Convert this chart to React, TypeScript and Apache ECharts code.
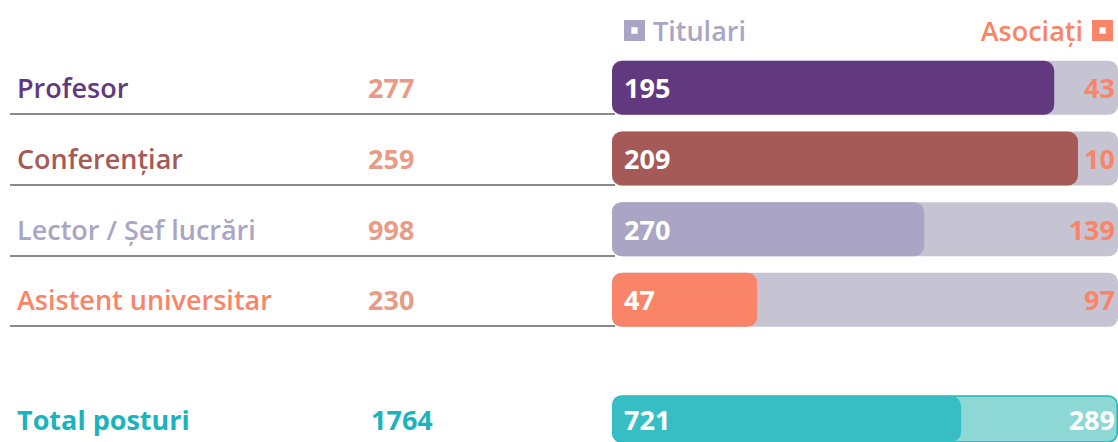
import React, { useEffect, useRef } from "react";
import * as echarts from "echarts";

const categories = ["Profesor", "Conferențiar", "Lector / Șef lucrări", "Asistent universitar"];
const posturi = [277, 259, 998, 230];
const titulari = [195, 209, 270, 47];
const asociati = [43, 10, 139, 97];
// share of the bar track filled by the titular bar (%)
const titulariShare = [87.4, 92.1, 61.7, 28.7];
const trackFull = [100, 100, 100, 100];

const totalLabel = "Total posturi";
const totalPosturi = 1764;
const totalTitulari = 721;
const totalAsociati = 289;
const totalShare = 69;

const rowColors = ["#62397e", "#a55a58", "#aaa5c5", "#fa8468"];
const rowWeights = [600, 600, 600, 600];

const FONT = "Open Sans";
const FS = 27;
const holeIcon = "path://M0,0L20,0L20,20L0,20Z M7,7L7,13L13,13L13,7Z";

export default function App() {
  const ref = useRef<HTMLDivElement>(null);
  useEffect(() => {
    if (!ref.current) return;
    const chart = echarts.init(ref.current, undefined, { renderer: "svg" });
    const rich: any = {
      v: { color: "#e99c85", fontSize: FS, fontWeight: 700, fontFamily: FONT },
      tv: { color: "#1bb3bd", fontSize: FS, fontWeight: 700, fontFamily: FONT },
      tn: { color: "#1bb3bd", fontSize: FS, fontWeight: 700, fontFamily: FONT, width: 354 },
    };
    categories.forEach((_, i) => {
      rich["n" + i] = {
        color: rowColors[i],
        fontSize: FS,
        fontWeight: rowWeights[i],
        fontFamily: FONT,
        width: 351,
      };
    });
    const option: any = {
      animation: false,
      textStyle: { fontFamily: FONT },
      legend: [
        {
          data: [
            {
              name: "Titulari",
              icon: holeIcon,
              itemStyle: { color: "#aaa5c5" },
              textStyle: { color: "#aaa5c5" },
            },
          ],
          left: 619,
          top: 12,
          itemWidth: 21,
          itemHeight: 21,
          selectedMode: false,
          textStyle: { fontSize: FS, fontWeight: 600, fontFamily: FONT, padding: [0, 0, 0, 3] },
        },
        {
          data: [
            {
              name: "Asociați",
              icon: holeIcon,
              itemStyle: { color: "#fa8468" },
              textStyle: { color: "#fa8468" },
            },
          ],
          right: 0,
          top: 12,
          align: "right",
          itemWidth: 21,
          itemHeight: 21,
          selectedMode: false,
          textStyle: { fontSize: FS, fontWeight: 600, fontFamily: FONT, padding: [0, 4, 0, 0] },
        },
      ],
      grid: [
        { left: 612, right: 0, top: 52.4, height: 282.8 },
        { left: 612, right: 0, top: 396, height: 46 },
        { left: 10, width: 605, top: 43.4, height: 282.8 },
      ],
      xAxis: [
        { type: "value", gridIndex: 0, min: 0, max: 100, show: false },
        { type: "value", gridIndex: 1, min: 0, max: 100, show: false },
        { type: "value", gridIndex: 2, min: 0, max: 100, show: false },
      ],
      yAxis: [
        {
          type: "category",
          gridIndex: 0,
          inverse: true,
          data: categories,
          axisLine: { show: false },
          axisTick: { show: false },
          splitLine: { show: false },
          axisLabel: {
            margin: 595,
            align: "left",
            formatter: (value: string, index: number) => `{n${index}|${value}}{v|${posturi[index]}}`,
            rich,
          },
        },
        {
          type: "category",
          gridIndex: 1,
          data: [totalLabel],
          axisLine: { show: false },
          axisTick: { show: false },
          splitLine: { show: false },
          axisLabel: {
            margin: 595,
            align: "left",
            formatter: (value: string) => `{tn|${value}}{tv|${totalPosturi}}`,
            rich,
          },
        },
        {
          type: "category",
          gridIndex: 2,
          inverse: true,
          data: categories,
          axisLine: { show: false },
          axisTick: { show: false },
          axisLabel: { show: false },
          splitLine: {
            show: true,
            showMinLine: false,
            lineStyle: { color: "#8a8a8a", width: 2 },
          },
        },
      ],
      series: [
        {
          name: "Asociați",
          type: "bar",
          xAxisIndex: 0,
          yAxisIndex: 0,
          data: trackFull,
          barWidth: 54,
          barGap: "-100%",
          itemStyle: { color: "#c6c4d3", borderRadius: 9 },
          label: {
            show: true,
            position: "insideRight",
            distance: 3,
            color: "#fa8468",
            fontSize: FS,
            fontWeight: 700,
            fontFamily: FONT,
            formatter: (p: any) => String(asociati[p.dataIndex]),
          },
        },
        {
          name: "Titulari",
          type: "bar",
          xAxisIndex: 0,
          yAxisIndex: 0,
          data: titulariShare.map((v, i) => ({ value: v, itemStyle: { color: rowColors[i] } })),
          barWidth: 54,
          barGap: "-100%",
          itemStyle: { color: "#aaa5c5", borderRadius: 10 },
          label: {
            show: true,
            position: "insideLeft",
            distance: 12,
            color: "#ffffff",
            fontSize: FS,
            fontWeight: 700,
            fontFamily: FONT,
            formatter: (p: any) => String(titulari[p.dataIndex]),
          },
        },
        {
          name: "Asociați",
          type: "bar",
          xAxisIndex: 1,
          yAxisIndex: 1,
          data: [100],
          barWidth: 55,
          barGap: "-100%",
          itemStyle: { color: "#8dd8d5", borderRadius: 9, borderColor: "#22b5bb", borderWidth: 1.5 },
          label: {
            show: true,
            position: "insideRight",
            distance: 3,
            color: "#ffffff",
            fontSize: FS,
            fontWeight: 700,
            fontFamily: FONT,
            formatter: () => String(totalAsociati),
          },
        },
        {
          name: "Titulari",
          type: "bar",
          xAxisIndex: 1,
          yAxisIndex: 1,
          data: [totalShare],
          barWidth: 55,
          barGap: "-100%",
          itemStyle: { color: "#36bec4", borderRadius: 10 },
          label: {
            show: true,
            position: "insideLeft",
            distance: 12,
            color: "#ffffff",
            fontSize: FS,
            fontWeight: 700,
            fontFamily: FONT,
            formatter: () => String(totalTitulari),
          },
        },
      ],
    };
    chart.setOption(option);
    return () => chart.dispose();
  }, []);
  return (
    <div
      ref={ref}
      style={{ position: "fixed", left: 0, top: 0, width: 1118, height: 442, background: "#ffffff" }}
    />
  );
}
